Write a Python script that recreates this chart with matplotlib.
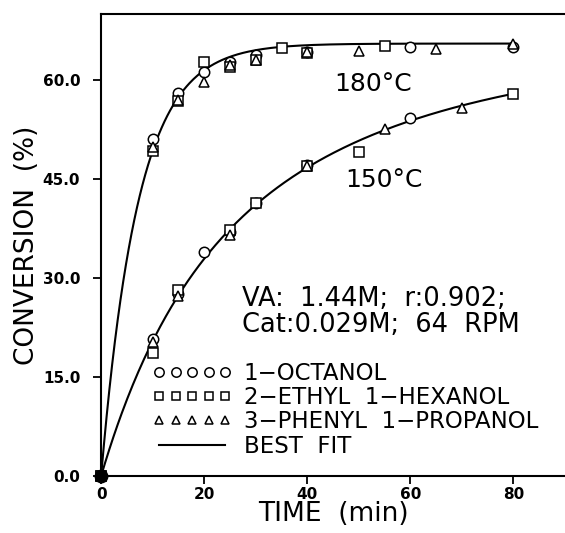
import matplotlib
matplotlib.use("Agg")
import matplotlib.pyplot as plt
import numpy as np

plt.rcParams["font.family"] = ["DejaVu Sans"]

# 180 C runs
t180_oct = [0, 10, 15, 20, 25, 30, 40, 60, 80]
c180_oct = [0, 51.0, 58.0, 61.2, 62.7, 63.7, 64.2, 65.0, 65.0]
t180_eth = [0, 10, 15, 20, 25, 30, 35, 40, 55]
c180_eth = [0, 49.3, 56.8, 62.7, 62.0, 63.0, 64.8, 64.0, 65.1]
t180_phe = [0, 10, 15, 20, 25, 30, 40, 50, 65, 80]
c180_phe = [0, 49.8, 57.0, 59.7, 62.3, 63.0, 64.2, 64.4, 64.7, 65.5]

# 150 C runs
t150_oct = [0, 10, 15, 20, 25, 30, 40, 60]
c150_oct = [0, 20.8, 27.5, 33.9, 37.0, 41.4, 47.1, 54.2]
t150_eth = [0, 10, 15, 25, 30, 40, 50, 80]
c150_eth = [0, 18.7, 28.2, 37.2, 41.4, 47.0, 49.0, 57.8]
t150_phe = [0, 10, 15, 25, 40, 55, 70]
c150_phe = [0, 20.3, 27.2, 36.5, 47.0, 52.5, 55.8]

labels = ["1\u2212OCTANOL", "2\u2212ETHYL  1\u2212HEXANOL", "3\u2212PHENYL  1\u2212PROPANOL", "BEST  FIT"]
xticks = [0, 20, 40, 60, 80]
yticks = [0, 15, 30, 45, 60]


def nth_order(t, cm, k, n):
    # conversion for dC/dt = k (Cm - C)^n, C(0) = 0
    if n == 1:
        return cm * (1 - np.exp(-k * t))
    return cm - (cm ** (1 - n) + (n - 1) * k * t) ** (1 / (1 - n))


def best_fit(ts, cs, orders):
    t = np.asarray(ts, float)
    c = np.asarray(cs, float)
    best = None
    for n in orders:
        cm = np.linspace(c.max(), c.max() * 1.5, 80)[:, None, None]
        k = np.logspace(-7, 0, 500)[None, :, None]
        pred = nth_order(t[None, None, :], cm, k, n)
        err = np.sum((pred - c) ** 2, axis=2)
        i, j = np.unravel_index(np.nanargmin(err), err.shape)
        if best is None or err[i, j] < best[0]:
            best = (err[i, j], cm[i, 0, 0], k[0, j, 0], n)
    return best[1:]


fig = plt.figure(figsize=(5.65, 5.33), dpi=100)
ax = fig.add_axes([0.179, 0.107, 0.821, 0.867])

mk = dict(linestyle="none", mfc="white", mec="black", mew=1.1, clip_on=False, zorder=3)
groups = [
    (t180_oct + t150_oct, c180_oct + c150_oct, "o", 7.5),
    (t180_eth + t150_eth, c180_eth + c150_eth, "s", 6.5),
    (t180_phe + t150_phe, c180_phe + c150_phe, "^", 7),
]
handles = []
for ts, cs, m, ms in groups:
    h, = ax.plot(ts, cs, marker=m, ms=ms, **mk)
    handles.append(h)

tt = np.linspace(0, 80, 300)
curves = [
    (t180_oct + t180_eth + t180_phe, c180_oct + c180_eth + c180_phe, [1.0]),
    (t150_oct + t150_eth + t150_phe, c150_oct + c150_eth + c150_phe, np.arange(1.0, 3.01, 0.25)),
]
for ts, cs, orders in curves:
    cm, k, n = best_fit(ts, cs, orders)
    fit, = ax.plot(tt, nth_order(tt, cm, k, n), color="black", lw=1.5, zorder=2)
handles.append(fit)

ax.plot([0], [0], "o", color="black", ms=9, clip_on=False, zorder=4)

ax.set_xlim(0, 90)
ax.set_ylim(0, 70)
ax.set_xticks(xticks)
ax.set_yticks(yticks)
ax.set_yticklabels([f"{v:.1f}" for v in yticks])
for lab in ax.get_xticklabels() + ax.get_yticklabels():
    lab.set_fontweight("bold")
ax.tick_params(axis="both", direction="out", length=6, width=1.3, labelsize=11)
ax.tick_params(axis="y", pad=9)
ax.tick_params(axis="x", pad=2)
ax.spines["right"].set_visible(False)
for s in ["left", "bottom", "top"]:
    ax.spines[s].set_linewidth(1.5)

ax.set_xlabel("TIME  (min)", fontsize=19, labelpad=-1)
ax.set_ylabel("CONVERSION  (%)", fontsize=19, labelpad=2)

ax.text(45.3, 59.3, "180°C", fontsize=18, va="center")
ax.text(47.3, 44.8, "150°C", fontsize=18, va="center")
ax.text(27.3, 24.9, "VA:  1.44M;  r:0.902;\nCat:0.029M;  64  RPM", fontsize=18.5,
        va="center", linespacing=1.0)

ax.legend(handles, labels, loc="lower left", bbox_to_anchor=(0.09, 0.02),
          frameon=False, numpoints=5, handlelength=3.5, handletextpad=0.5,
          labelspacing=0.05, fontsize=16.5, borderaxespad=0, markerscale=0.9)

fig.savefig("out.png", dpi=100)
